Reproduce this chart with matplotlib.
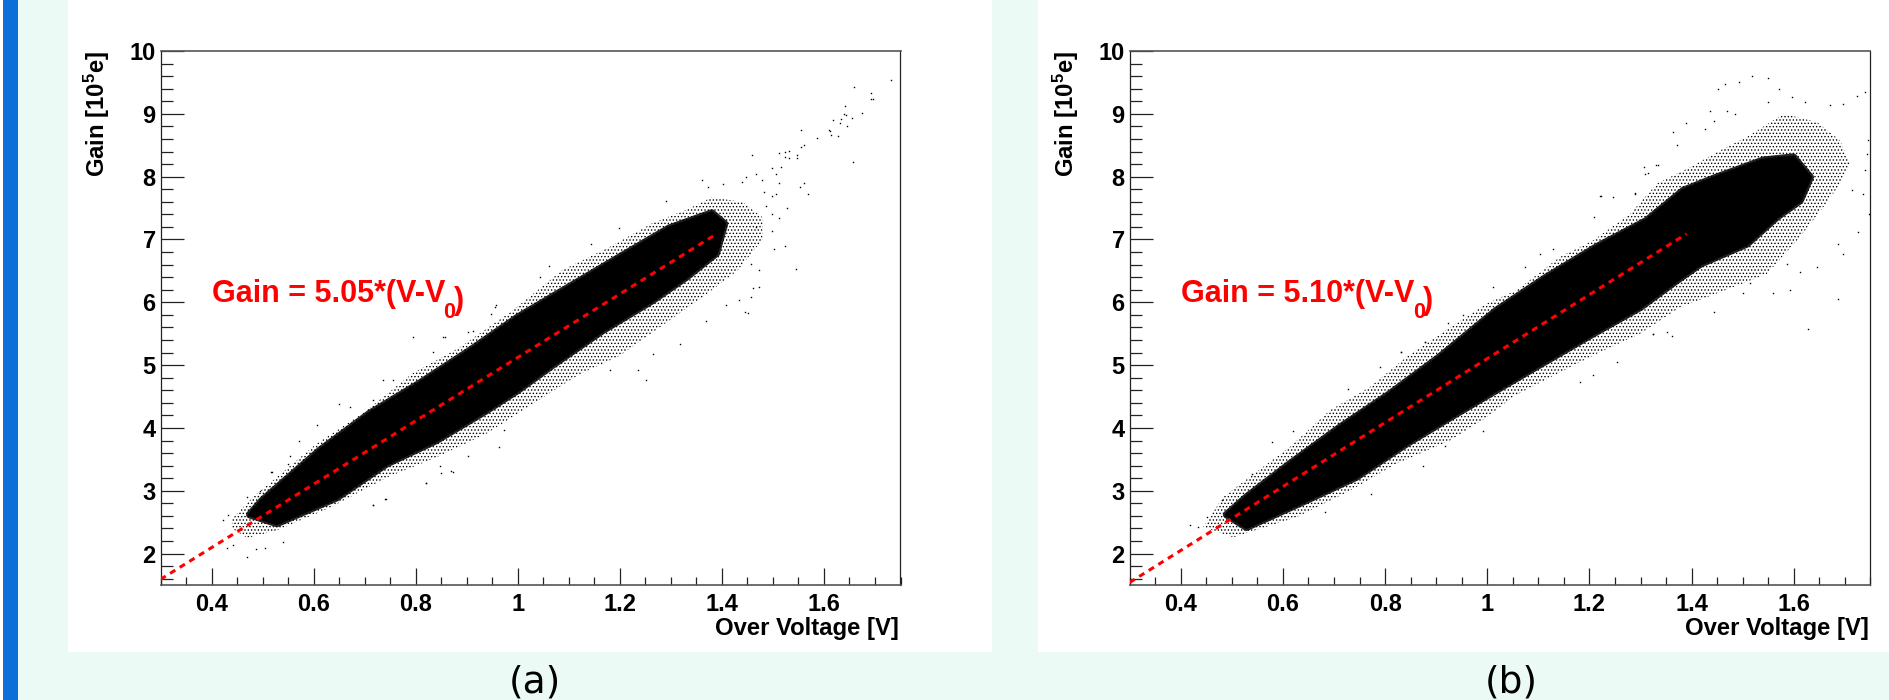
#!/usr/bin/env python3


# +
# import(s)
# -
import matplotlib as mpl
mpl.use('Agg')
import matplotlib.pyplot as plt
from matplotlib.patches import Rectangle
from matplotlib.ticker import MultipleLocator, FixedLocator, FixedFormatter


# +
# data (over voltage, gain)
# -
X_TICKS = [0.4, 0.6, 0.8, 1.0, 1.2, 1.4, 1.6]
X_TICK_LABELS = ['0.4', '0.6', '0.8', '1', '1.2', '1.4', '1.6']
Y_TICKS = [2, 3, 4, 5, 6, 7, 8, 9, 10]
Y_TICK_LABELS = ['2', '3', '4', '5', '6', '7', '8', '9', '10']

# panel (a)
FIT_A_X = [0.30, 1.39]
FIT_A_Y = [1.59, 7.09]
CORE_A_UP_X = [0.475, 0.50, 0.612, 0.71, 0.808, 0.906, 1.0, 1.1, 1.2, 1.297, 1.38, 1.405]
CORE_A_UP_Y = [2.62, 2.85, 3.64, 4.23, 4.71, 5.23, 5.76, 6.24, 6.72, 7.18, 7.42, 7.25]
CORE_A_LO_X = [0.475, 0.528, 0.645, 0.743, 0.84, 0.939, 1.0, 1.068, 1.166, 1.264, 1.33, 1.389]
CORE_A_LO_Y = [2.62, 2.48, 2.89, 3.43, 3.80, 4.28, 4.60, 5.00, 5.55, 6.03, 6.40, 6.78]
EDGE_A_UP_X = [0.44, 0.48, 0.606, 0.696, 0.794, 0.886, 0.99, 1.087, 1.18, 1.264, 1.33, 1.38, 1.44, 1.48]
EDGE_A_UP_Y = [2.55, 2.89, 3.75, 4.23, 4.87, 5.28, 5.87, 6.51, 6.88, 7.26, 7.47, 7.67, 7.60, 7.35]
EDGE_A_LO_X = [0.44, 0.47, 0.528, 0.632, 0.743, 0.84, 0.939, 1.0, 1.12, 1.2, 1.297, 1.362, 1.43, 1.48]
EDGE_A_LO_Y = [2.40, 2.25, 2.37, 2.73, 3.21, 3.53, 3.91, 4.23, 4.85, 5.15, 5.71, 6.08, 6.50, 7.00]
DOTS_A_X = [1.732, 1.659, 1.692, 1.692, 1.696, 1.641, 1.639, 1.643, 1.675, 1.618, 1.634, 1.631, 1.654, 1.645,
            1.609, 1.611, 1.614, 1.628, 1.555, 1.587, 1.561, 1.556, 1.512, 1.523, 1.532, 1.547, 1.547, 1.532,
            1.523, 1.459, 1.516, 1.499, 1.507, 1.657, 1.561, 1.553, 1.569, 1.512, 1.467, 1.448, 1.478, 1.362,
            1.372, 1.403, 1.440, 1.527, 1.523, 1.502, 1.546, 1.473, 1.473, 1.461, 1.457, 1.445, 1.452, 1.434,
            1.408, 1.511, 1.499, 1.498, 1.506, 1.498, 1.483, 1.486, 1.467, 1.457,
            0.795, 0.857, 0.834, 0.649, 0.671, 0.606, 0.572, 0.550, 0.517, 0.495, 0.964, 0.974, 0.873, 0.821,
            0.739, 0.716, 0.847, 0.756, 0.736, 0.716, 0.902, 0.955,
            0.470, 0.487, 0.504, 0.541, 0.423, 0.433, 0.430, 0.443, 0.469, 0.518, 0.553, 0.821, 0.741, 0.717,
            0.902, 0.870, 0.850,
            1.291, 1.199, 1.144, 1.062, 1.043, 0.957, 0.948, 0.912, 0.854, 1.252, 1.235, 1.317, 1.369, 1.265, 1.180]
DOTS_A_Y = [9.54, 9.43, 9.33, 9.24, 9.24, 9.12, 9.00, 8.98, 9.02, 8.90, 8.92, 8.85, 8.94, 8.80,
            8.75, 8.73, 8.66, 8.64, 8.74, 8.61, 8.51, 8.47, 8.37, 8.39, 8.41, 8.35, 8.29, 8.29,
            8.32, 8.35, 8.16, 8.14, 8.05, 8.24, 7.90, 7.83, 7.73, 7.90, 8.04, 7.99, 7.94, 7.94,
            7.83, 7.89, 7.91, 7.50, 6.90, 6.85, 6.53, 6.51, 6.25, 6.22, 6.08, 5.84, 5.83, 6.03,
            5.95, 7.34, 7.14, 7.41, 7.72, 7.69, 7.75, 7.54, 7.20, 6.61,
            5.45, 5.44, 5.21, 4.38, 4.33, 4.04, 3.80, 3.43, 3.30, 3.00, 3.69, 3.96, 3.30, 3.12,
            2.87, 2.77, 3.39, 4.76, 4.77, 4.44, 5.53, 5.93,
            1.94, 2.07, 2.09, 2.18, 2.53, 2.62, 2.09, 2.13, 2.90, 3.30, 3.55, 3.12, 2.87, 2.77,
            3.55, 3.31, 3.28,
            7.61, 7.19, 6.92, 6.57, 6.40, 5.95, 5.82, 5.55, 5.45, 4.76, 4.92, 5.34, 5.71, 5.18, 4.92]

# panel (b)
FIT_B_X = [0.30, 1.39]
FIT_B_Y = [1.54, 7.09]
CORE_B_UP_X = [0.49, 0.529, 0.614, 0.712, 0.809, 0.907, 1.018, 1.116, 1.214, 1.312, 1.384, 1.449, 1.540, 1.599, 1.632]
CORE_B_UP_Y = [2.62, 2.90, 3.43, 4.01, 4.54, 5.13, 5.87, 6.40, 6.88, 7.30, 7.78, 7.99, 8.26, 8.31, 7.99]
CORE_B_LO_X = [0.49, 0.529, 0.646, 0.744, 0.842, 0.940, 1.038, 1.116, 1.207, 1.299, 1.371, 1.417, 1.508, 1.567, 1.612]
CORE_B_LO_Y = [2.62, 2.42, 2.85, 3.22, 3.75, 4.23, 4.70, 5.07, 5.50, 5.92, 6.35, 6.61, 6.93, 7.36, 7.62]
EDGE_B_UP_X = [0.444, 0.483, 0.535, 0.614, 0.692, 0.770, 0.842, 0.927, 0.999, 1.057, 1.142, 1.208, 1.280, 1.332,
               1.397, 1.456, 1.508, 1.580, 1.645, 1.690, 1.710]
EDGE_B_UP_Y = [2.42, 2.90, 3.22, 3.70, 4.28, 4.65, 5.13, 5.60, 5.98, 6.19, 6.72, 6.99, 7.41, 7.89,
               8.15, 8.42, 8.63, 9.00, 8.87, 8.58, 8.21]
EDGE_B_LO_X = [0.444, 0.503, 0.627, 0.731, 0.822, 0.927, 0.999, 1.051, 1.136, 1.214, 1.299, 1.377, 1.449, 1.547,
               1.612, 1.658, 1.691, 1.710]
EDGE_B_LO_Y = [2.42, 2.26, 2.58, 3.00, 3.43, 3.80, 4.17, 4.50, 4.86, 5.18, 5.50, 5.92, 6.14, 6.45,
               7.04, 7.52, 7.89, 8.21]
DOTS_B_X = [1.518, 1.550, 1.492, 1.465, 1.452, 1.570, 1.596, 1.739, 1.723, 1.550, 1.622, 1.671, 1.697, 1.436,
            1.485, 1.469, 1.388, 1.364, 1.371, 1.426, 1.443, 1.307, 1.335, 1.315, 1.289, 1.222, 1.208, 1.746,
            1.739, 1.748, 1.726, 1.697, 1.687, 1.627, 1.593, 1.560, 1.645, 1.612, 1.586, 1.514, 1.501, 1.443,
            1.361, 1.325, 1.713, 1.736, 1.687, 1.743,
            1.074, 1.103, 1.129, 1.012, 0.924, 0.878, 0.832, 1.221, 1.247, 1.289, 1.309, 1.331, 1.253, 1.207,
            1.181, 1.325, 1.351,
            0.790, 0.728, 0.620, 0.578, 0.539, 0.832, 0.878, 0.953, 0.434, 0.418, 0.773, 0.682, 0.875, 0.917,
            0.992, 0.451, 0.480]
DOTS_B_Y = [9.61, 9.57, 9.50, 9.48, 9.40, 9.40, 9.26, 9.35, 9.28, 9.19, 9.19, 9.14, 9.16, 9.04,
            9.00, 9.04, 8.85, 8.71, 8.50, 8.76, 8.89, 8.16, 8.18, 8.06, 7.73, 7.69, 7.36, 8.59,
            8.10, 7.41, 7.12, 6.77, 6.06, 5.57, 6.19, 6.15, 6.56, 6.48, 6.61, 6.30, 6.14, 5.84,
            5.47, 5.50, 7.78, 7.73, 6.93, 8.36,
            6.56, 6.77, 6.85, 6.25, 5.67, 5.37, 5.21, 7.69, 7.68, 7.74, 8.05, 8.18, 5.05, 4.84,
            4.73, 5.50, 5.53,
            4.97, 4.62, 3.95, 3.77, 3.27, 5.21, 5.37, 5.79, 2.42, 2.45, 2.95, 2.66, 3.39, 3.72,
            3.95, 2.58, 2.85]


# +
# initialize
# -
W, H = 1890.0, 700.0
MINT = '#ecfaf6'
BLUE = '#0a6fd6'
RED = '#ff0000'
FONT = 'Liberation Sans'

plt.rcParams['font.family'] = [FONT, 'DejaVu Sans']
plt.rcParams['mathtext.fontset'] = 'custom'
plt.rcParams['mathtext.bf'] = f'{FONT}:bold'
plt.rcParams['mathtext.rm'] = f'{FONT}:bold'
plt.rcParams['hatch.linewidth'] = 0.6


# +
# function: add_box()
# -
def add_box(fig, x0, y0, x1, y1, color):
    fig.add_artist(Rectangle((x0 / W, 1.0 - y1 / H), (x1 - x0) / W, (y1 - y0) / H,
                             transform=fig.transFigure, facecolor=color, edgecolor='none', zorder=-5))


# +
# function: draw_panel()
# -
def draw_panel(fig, left, right, core_up, core_lo, edge_up, edge_lo, dots, fit, gain_text):

    ax = fig.add_axes([left / W, 1.0 - 585.0 / H, (right - left) / W, (585.0 - 51.0) / H])
    ax.set_facecolor('none')
    ax.set_xlim(0.3, 1.75)
    ax.set_ylim(1.5, 10.0)

    # cloud: speckled edge, dark rim round the core, solid core, single dots
    ax.fill(edge_up[0] + edge_lo[0][::-1], edge_up[1] + edge_lo[1][::-1], facecolor='none',
            edgecolor='black', hatch='.....', linewidth=0, zorder=2)
    ax.fill(core_up[0] + core_lo[0][::-1], core_up[1] + core_lo[1][::-1], facecolor='none',
            edgecolor='black', linewidth=5.5, alpha=0.85, joinstyle='round', zorder=3)
    ax.fill(core_up[0] + core_lo[0][::-1], core_up[1] + core_lo[1][::-1], facecolor='black',
            edgecolor='black', linewidth=2.5, joinstyle='round', zorder=3)
    ax.plot(dots[0], dots[1], linestyle='none', marker='s', markersize=1.0, markeredgewidth=0,
            color='black', zorder=4)

    # fit line
    ax.plot(fit[0], fit[1], color=RED, linewidth=2.2, dashes=(2.0, 1.7), zorder=5)

    # fit text, the subscript sits lower than mathtext would put it
    _t = ax.text(0.4, 6.0, gain_text, color=RED, fontsize=22, fontweight='bold', ha='left', va='baseline', zorder=6)
    _s = ax.annotate('0', xy=(1, 0), xycoords=_t, xytext=(-1.0, -6.0), textcoords='offset points', color=RED,
                     fontsize=15.5, fontweight='bold', ha='left', va='baseline', zorder=6)
    ax.annotate(')', xy=(1, 0), xycoords=_s, xytext=(-1.0, 9.5), textcoords='offset points', color=RED,
                fontsize=22, fontweight='bold', ha='left', va='baseline', zorder=6)

    # ticks
    ax.xaxis.set_major_locator(FixedLocator(X_TICKS))
    ax.xaxis.set_major_formatter(FixedFormatter(X_TICK_LABELS))
    ax.xaxis.set_minor_locator(MultipleLocator(0.05))
    ax.yaxis.set_major_locator(FixedLocator(Y_TICKS))
    ax.yaxis.set_major_formatter(FixedFormatter(Y_TICK_LABELS))
    ax.yaxis.set_minor_locator(MultipleLocator(0.2))
    ax.tick_params(axis='x', which='major', direction='in', length=12, width=0.9, pad=6, labelsize=17, color='#222222')
    ax.tick_params(axis='x', which='minor', direction='in', length=6, width=0.9, color='#222222')
    ax.tick_params(axis='y', which='major', direction='in', length=16.3, width=0.9, pad=3.5, labelsize=17, color='#222222')
    ax.tick_params(axis='y', which='minor', direction='in', length=8.9, width=0.9, color='#222222')
    for _l in ax.get_xticklabels() + ax.get_yticklabels():
        _l.set_fontweight('bold')

    # frame
    for _s2 in ('top', 'bottom'):
        ax.spines[_s2].set_color('#555555')
        ax.spines[_s2].set_linewidth(1.2)
    for _s2 in ('left', 'right'):
        ax.spines[_s2].set_color('#222222')
        ax.spines[_s2].set_linewidth(0.9)

    # label(s)
    ax.set_xlabel('Over Voltage [V]', fontsize=17.2, fontweight='bold', ha='right', va='top')
    ax.xaxis.set_label_coords(0.998, -0.059)
    ax.set_ylabel(r'Gain [$\mathbf{10^{5}}$e]', fontsize=17.2, fontweight='bold', ha='right', va='center')
    ax.yaxis.set_label_coords(-0.0855, 1.0)
    return ax


# +
# main()
# -
if __name__ == '__main__':

    fig = plt.figure(figsize=(18.9, 7.0), dpi=100, facecolor=MINT)

    # page background
    add_box(fig, 0, 0, 3, 700, '#ffffff')
    add_box(fig, 3, 0, 18, 700, BLUE)
    add_box(fig, 68, 0, 992, 652, '#ffffff')
    add_box(fig, 1038, 0, 1890, 652, '#ffffff')

    draw_panel(fig, 160.5, 900.5,
               (CORE_A_UP_X, CORE_A_UP_Y), (CORE_A_LO_X, CORE_A_LO_Y),
               (EDGE_A_UP_X, EDGE_A_UP_Y), (EDGE_A_LO_X, EDGE_A_LO_Y),
               (DOTS_A_X, DOTS_A_Y), (FIT_A_X, FIT_A_Y), 'Gain = 5.05*(V-V')
    draw_panel(fig, 1129.6, 1870.5,
               (CORE_B_UP_X, CORE_B_UP_Y), (CORE_B_LO_X, CORE_B_LO_Y),
               (EDGE_B_UP_X, EDGE_B_UP_Y), (EDGE_B_LO_X, EDGE_B_LO_Y),
               (DOTS_B_X, DOTS_B_Y), (FIT_B_X, FIT_B_Y), 'Gain = 5.10*(V-V')

    fig.text(535.0 / W, 1.0 - 682.0 / H, '(a)', family='DejaVu Sans', fontsize=27, ha='center', va='center', color='black')
    fig.text(1511.0 / W, 1.0 - 682.0 / H, '(b)', family='DejaVu Sans', fontsize=27, ha='center', va='center', color='black')

    fig.savefig('out.png', dpi=100, facecolor=fig.get_facecolor())
